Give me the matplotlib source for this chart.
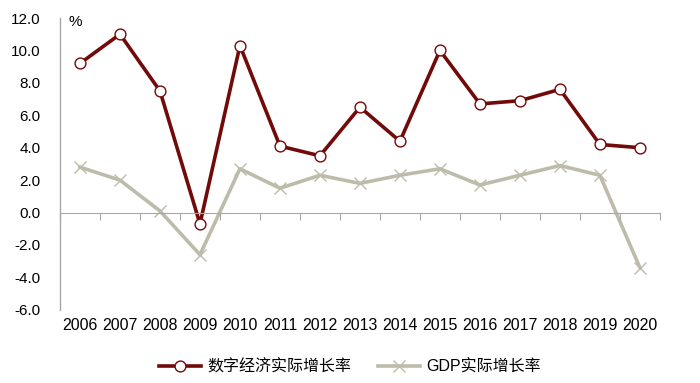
import numpy as np
import matplotlib.pyplot as plt

plt.rcParams['font.family'] = ['Liberation Sans', 'Noto Sans CJK SC', 'DejaVu Sans']

years = ['2006', '2007', '2008', '2009', '2010', '2011', '2012', '2013',
         '2014', '2015', '2016', '2017', '2018', '2019', '2020']
digital = [9.2, 11.0, 7.5, -0.7, 10.3, 4.1, 3.5, 6.5, 4.4, 10.0, 6.7, 6.9, 7.6, 4.2, 4.0]
gdp = [2.8, 2.0, 0.1, -2.6, 2.7, 1.5, 2.3, 1.8, 2.3, 2.7, 1.7, 2.3, 2.9, 2.3, -3.4]

red = '#720A0A'
grey = '#BDBCAB'

fig = plt.figure(figsize=(7, 3.83), dpi=100)
ax = fig.add_axes([0.0857, 0.191, 0.857, 0.762])

x = np.arange(len(years))
ax.plot(x, gdp, color=grey, lw=2.6, marker='x', ms=8.5, mew=1.0,
        label='GDP实际增长率', zorder=2)
ax.plot(x, digital, color=red, lw=2.6, marker='o', ms=7.8, mfc='white',
        mec=red, mew=1.0, label='数字经济实际增长率', zorder=3)

ax.set_xlim(-0.5, len(years) - 0.5)
ax.set_ylim(-6, 12)
ax.set_yticks(np.arange(-6, 12.1, 2))
ax.set_yticklabels([f'{v:.1f}' for v in np.arange(-6, 12.1, 2)], fontsize=11)
ax.set_xticks(x)
ax.set_xticklabels(years, fontsize=11.5)
ax.tick_params(axis='y', length=0, pad=14)
ax.tick_params(axis='x', length=0, pad=6)

for s in ['top', 'right', 'bottom']:
    ax.spines[s].set_visible(False)
ax.spines['left'].set_color('#A6A6A6')
ax.spines['left'].set_linewidth(1.0)

# zero line with category boundary ticks
ax2 = ax.twiny()
ax2.set_xlim(ax.get_xlim())
for s in ['top', 'right', 'left']:
    ax2.spines[s].set_visible(False)
ax2.spines['bottom'].set_position(('data', 0))
ax2.spines['bottom'].set_color('#A6A6A6')
ax2.xaxis.set_ticks_position('bottom')
ax2.set_xticks(np.arange(-0.5, len(years), 1))
ax2.set_xticklabels([])
ax2.tick_params(axis='x', length=5, color='#A6A6A6', direction='out')

ax.text(0.015, 1.01, '%', transform=ax.transAxes, fontsize=11, va='top', ha='left')

h, l = ax.get_legend_handles_labels()
fig.legend(h[::-1], l[::-1], loc='lower center', ncol=2, frameon=False,
           fontsize=11.5, bbox_to_anchor=(0.5, -0.015), handlelength=2.6,
           columnspacing=1.7, handletextpad=0.4)

fig.savefig('out.png', dpi=100)
